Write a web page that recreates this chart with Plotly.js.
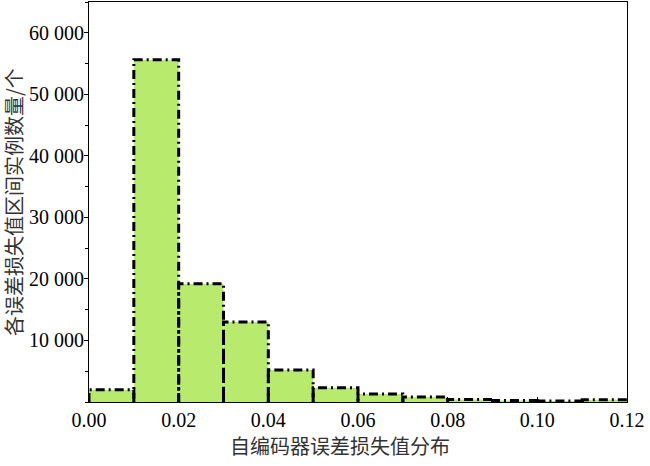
<!DOCTYPE html>
<html lang="zh">
<head>
  <meta charset="UTF-8">
  <title>自编码器误差损失值分布</title>
  <script src="https://cdn.plot.ly/plotly-3.0.1.min.js"></script>
  <style>body { margin: 0; }</style>
</head>
<body>
  <div id="plot" style="width:650px;height:466px;"></div>
  <script>
    // bin left edges and counts per bin (width 0.01)
    const binStart = [0.00, 0.01, 0.02, 0.03, 0.04, 0.05, 0.06, 0.07, 0.08, 0.09, 0.10, 0.11];
    const counts = [2000, 55600, 19200, 13000, 5200, 2300, 1300, 800, 420, 250, 150, 380];
    const binWidth = 0.01;
    const xTicks = [0, 0.02, 0.04, 0.06, 0.08, 0.10, 0.12];
    const yTicks = [10000, 20000, 30000, 40000, 50000, 60000];

    const fillColor = '#b8ea6e';

    // outline of each bar, dash-dot, built from the bins
    const ox = [], oy = [];
    binStart.forEach((x0, i) => {
      const x1 = x0 + binWidth;
      ox.push(x0, x0, x1, x1, null);
      oy.push(0, counts[i], counts[i], 0, null);
    });

    const bars = {
      type: 'bar',
      x: binStart,
      y: counts,
      width: binWidth,
      offset: 0,
      marker: { color: fillColor, line: { width: 0 } },
      hoverinfo: 'skip'
    };

    const outline = {
      type: 'scatter',
      mode: 'lines',
      x: ox,
      y: oy,
      line: { color: '#000', width: 3, dash: '9px,4px,2px,4px' },
      connectgaps: false,
      hoverinfo: 'skip'
    };

    const tickFont = { family: 'Liberation Serif, Times New Roman, serif', size: 20, color: '#000' };
    const titleFont = { family: 'Noto Sans CJK SC, sans-serif', size: 20, color: '#333' };

    const layout = {
      width: 650,
      height: 466,
      margin: { l: 89, r: 23, t: 2, b: 64 },
      showlegend: false,
      separators: '. ',
      plot_bgcolor: '#fff',
      paper_bgcolor: '#fff',
      xaxis: {
        range: [0, 0.12],
        tickvals: xTicks,
        tickformat: '.2f',
        ticks: 'inside',
        ticklen: 5,
        tickcolor: '#000',
        showgrid: false,
        zeroline: false,
        showline: true,
        linecolor: '#000',
        linewidth: 1,
        mirror: true,
        tickfont: tickFont
      },
      yaxis: {
        range: [0, 65000],
        tickvals: yTicks,
        tickformat: ',d',
        ticks: 'outside',
        ticklen: 4,
        ticklabelstandoff: -4,
        tickcolor: '#000',
        minor: { dtick: 5000, ticks: 'outside', ticklen: 3, tickcolor: '#000' },
        showgrid: false,
        zeroline: false,
        showline: true,
        linecolor: '#000',
        linewidth: 1,
        mirror: true,
        tickfont: tickFont
      },
      annotations: [{
        text: '自编码器误差损失值分布',
        xref: 'paper', yref: 'paper',
        x: 0.467, y: 0, yshift: -43,
        xanchor: 'center', yanchor: 'middle',
        showarrow: false,
        font: titleFont
      }, {
        text: '各误差损失值区间实例数量/个',
        xref: 'paper', yref: 'paper',
        x: 0, y: 0.5, xshift: -76,
        xanchor: 'center', yanchor: 'middle',
        textangle: -90,
        showarrow: false,
        font: titleFont
      }]
    };

    Plotly.newPlot('plot', [bars, outline], layout, { staticPlot: true });
  </script>
</body>
</html>
